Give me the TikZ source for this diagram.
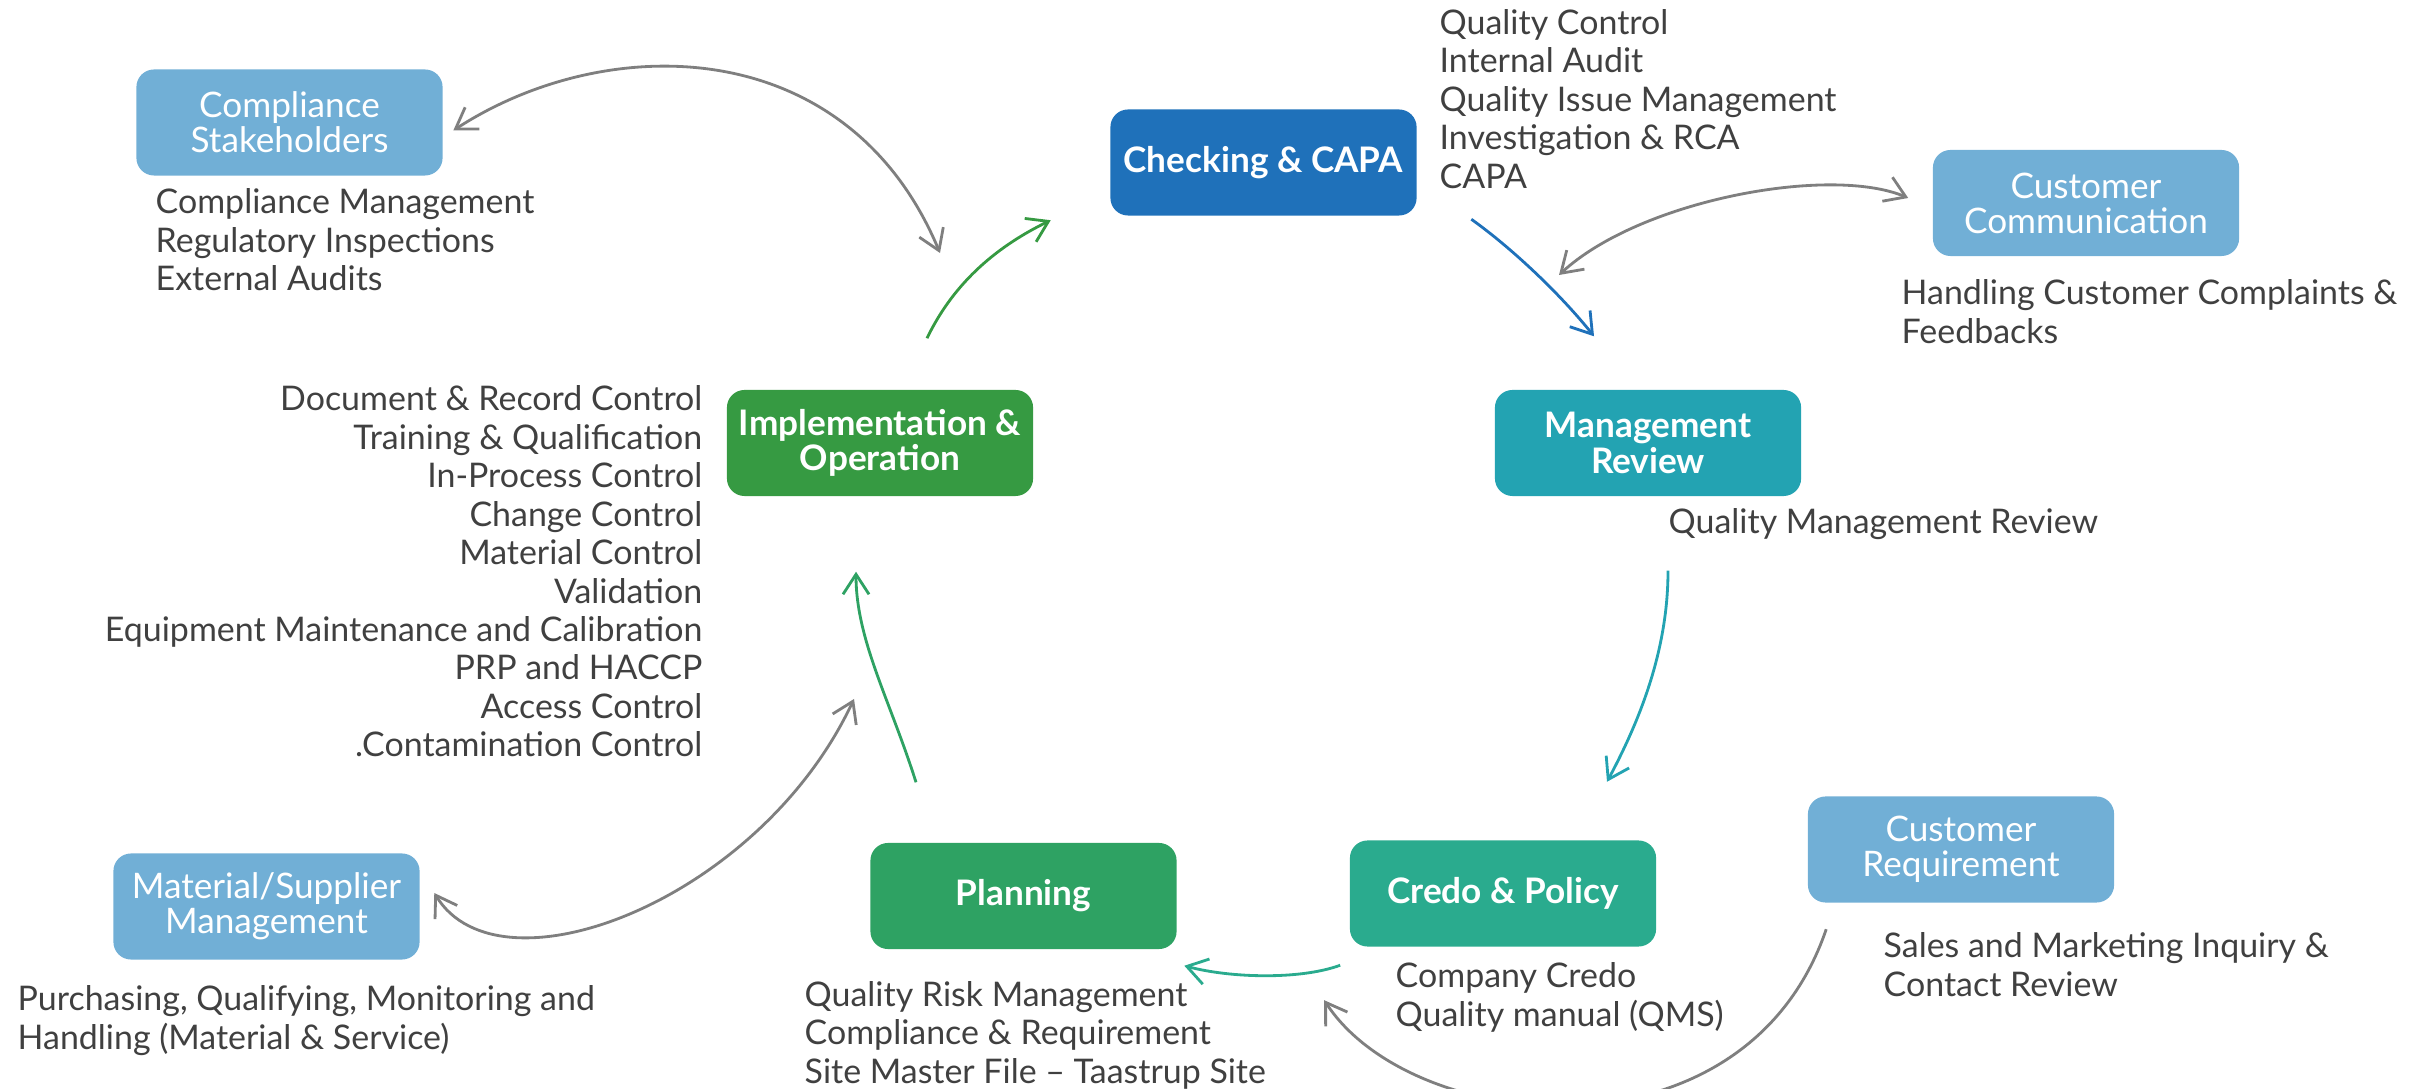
\documentclass[tikz,border=0pt]{standalone}
\usepackage{fontspec}
\setmainfont{Lato}
\usepackage{tikz}
\usetikzlibrary{arrows.meta}
\definecolor{sideblue}{HTML}{71AFD6}
\definecolor{checkblue}{HTML}{1F71BA}
\definecolor{implgreen}{HTML}{369A42}
\definecolor{mgmtteal}{HTML}{23A3B2}
\definecolor{credoteal}{HTML}{2AAB8E}
\definecolor{plangreen}{HTML}{2EA263}
\definecolor{txtgray}{HTML}{404040}
\definecolor{arrowgray}{HTML}{7F7F7F}

\begin{document}
\begin{tikzpicture}[x=0.01cm,y=-0.01cm,
	stage/.style={rounded corners=5pt,minimum width=3.06cm,minimum height=1.06cm,inner sep=2pt,
		text=white,align=center,font=\fontsize{10}{10}\selectfont\bfseries},
	side/.style={stage,fill=sideblue,font=\fontsize{10}{10}\selectfont},
	items/.style={inner sep=0pt,text=txtgray,font=\fontsize{9.65}{10.93}\selectfont},
	link/.style={line width=0.8pt,-{Straight Barb[length=2mm,width=2.6mm]}},
	both/.style={link,draw=arrowgray,{Straight Barb[length=2mm,width=2.6mm]}-{Straight Barb[length=2mm,width=2.6mm]}}]
\useasboundingbox (0,0) rectangle (2415,1089);

% cycle
\node (check) [stage,fill=checkblue] at (1263.5,162.5) {Checking \& CAPA};
\node (impl) [stage,fill=implgreen] at (880,443) {Implementation \&\\Operation};
\node (mgmt) [stage,fill=mgmtteal] at (1648,443) {Management\\Review};
\node (plan) [stage,fill=plangreen] at (1023.5,896) {Planning};
\node (credo) [stage,fill=credoteal] at (1503,893.5) {Credo \& Policy};

% outside parties
\node (comp) [side] at (289.5,122.5) {Compliance\\Stakeholders};
\node (custcom) [side] at (2086,203) {Customer\\Communication};
\node (matsup) [side] at (266.5,906.5) {Material/Supplier\\Management};
\node (custreq) [side] at (1961,849.5) {Customer\\Requirement};

\node (compList) [items,anchor=west,align=left] at (155,240) {Compliance Management\\Regulatory Inspections\\External Audits};
\node (checkList) [items,anchor=west,align=left] at (1439,99) {Quality Control\\Internal Audit\\Quality Issue Management\\Investigation \& RCA\\CAPA};
\node (custcomList) [items,anchor=west,align=left] at (1901,311.5) {Handling Customer Complaints \&\\Feedbacks};
\node (implList) [items,anchor=east,align=right] at (703,571.5) {Document \& Record Control\\Training \& Qualification\\In-Process Control\\Change Control\\Material Control\\Validation\\Equipment Maintenance and Calibration\\PRP and HACCP\\Access Control\\.Contamination Control};
\node (mgmtList) [items,anchor=west,align=left] at (1668,524) {Quality Management Review};
\node (matsupList) [items,anchor=west,align=left] at (17,1020.5) {Purchasing, Qualifying, Monitoring and\\Handling (Material \& Service)};
\node (planList) [items,anchor=west,align=left] at (804,1035) {Quality Risk Management\\Compliance \& Requirement\\Site Master File – Taastrup Site};
\node (credoList) [items,anchor=west,align=left] at (1395,997.5) {Company Credo\\Quality manual (QMS)};
\node (custreqList) [items,anchor=west,align=left] at (1883,964.5) {Sales and Marketing Inquiry \&\\Contact Review};

\coordinate (implTop) at (940,253);
\coordinate (checkSide) at (1559,275);
\coordinate (implLow) at (854,699);

\draw [link,draw=implgreen] ([shift={(47,-51)}]impl.north) .. controls (955,280) and (1000,245) .. ([shift={(-59,4)}]check.south west);
\draw [link,draw=checkblue] ([shift={(54,3)}]check.south east) .. controls (1513,249) and (1561,295) .. ([shift={(-54,-53)}]mgmt.north);
\draw [link,draw=mgmtteal] ([shift={(20,74)}]mgmt.south) .. controls (1668,650) and (1640,720) .. ([shift={(104,-58)}]credo.north);
\draw [link,draw=credoteal] ([shift={(-9,18)}]credo.south west) .. controls (1300,980) and (1230,978) .. ([shift={(7,16)}]plan.south east);
\draw [link,draw=plangreen] ([shift={(-107.5,-60)}]plan.north) .. controls (890,700) and (856,640) .. ([shift={(-24,75)}]impl.south);

\draw [both] ([shift={(10,8)}]comp.east) .. controls (608,30) and (848,33) .. (implTop);
\draw [both] (checkSide) .. controls (1640,200) and (1830,165) .. ([shift={(-24,-5)}]custcom.west);
\draw [both] ([shift={(14,-13.5)}]matsup.east) .. controls (500,1000) and (760,900) .. (implLow);
\draw [link,draw=arrowgray] ([shift={(19,26)}]custreq.south west) .. controls (1745,1168) and (1412,1135) .. ([shift={(-25,53)}]credo.south west);
\end{tikzpicture}
\end{document}
